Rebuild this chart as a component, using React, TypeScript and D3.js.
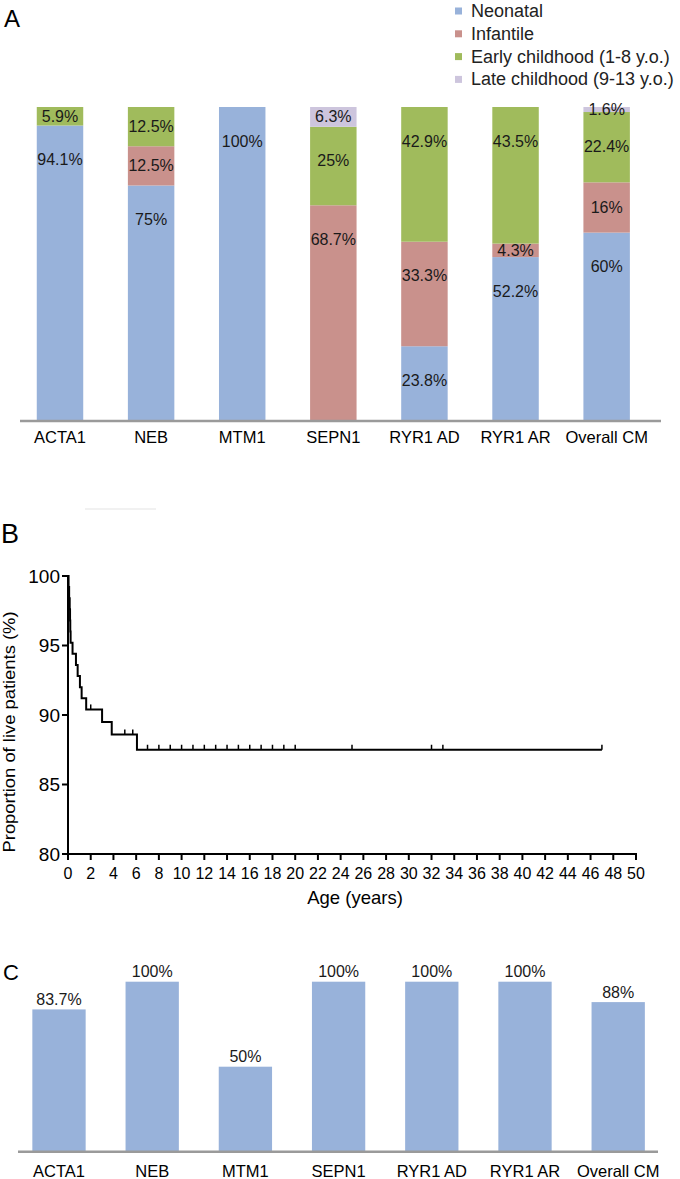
import React from "react";
import * as d3 from "d3";

// categories shared by panels A and C
const genes = ["ACTA1", "NEB", "MTM1", "SEPN1", "RYR1 AD", "RYR1 AR", "Overall CM"];

// panel A: age at onset (%)
const stageNames = ["Neonatal", "Infantile", "Early childhood (1-8 y.o.)", "Late childhood (9-13 y.o.)"];
const neonatal = [94.1, 75, 100, 0, 23.8, 52.2, 60];
const infantile = [0, 12.5, 0, 68.7, 33.3, 4.3, 16];
const earlyChildhood = [5.9, 12.5, 0, 25, 42.9, 43.5, 22.4];
const lateChildhood = [0, 0, 0, 6.3, 0, 0, 1.6];
const stageColors = ["#98b2da", "#c9918c", "#a0bb5c", "#cdc5dd"];

// panel B: Kaplan-Meier survival (event time in years, survival %)
const eventTimes = [0, 0.05, 0.1, 0.15, 0.18, 0.2, 0.23, 0.4, 0.7, 0.85, 1.05, 1.2, 1.6, 3.0, 3.85, 6.07, 47];
const survival = [100, 99.2, 98.4, 97.6, 96.8, 96.0, 95.2, 94.4, 93.6, 92.8, 92.0, 91.2, 90.4, 89.5, 88.6, 87.5, 87.5];
const censorTimes = [2, 5, 5.7, 7, 8, 9, 10, 11, 12, 13, 14, 15, 16, 17, 18, 19, 20, 25, 32, 33, 47];
const xTicksB = d3.range(0, 51, 2);
const yTicksB = [80, 85, 90, 95, 100];

// panel C: survival by gene (%)
const survivalByGene = [83.7, 100, 50, 100, 100, 100, 88];

const FONT = "'Liberation Sans', Arial, Helvetica, sans-serif";
const fmt = (v: number) => `${v}%`;

const PanelA = () => {
  const x = d3.scaleBand().domain(genes).range([14.45, 652.2]).paddingInner(0.49).paddingOuter(0.245);
  const y = d3.scaleLinear().domain([0, 100]).range([421, 107]);
  const rows = genes.map((g, i) => ({
    gene: g,
    s0: neonatal[i],
    s1: infantile[i],
    s2: earlyChildhood[i],
    s3: lateChildhood[i],
  }));
  const stack = d3.stack<any>().keys(["s0", "s1", "s2", "s3"])(rows);

  return (
    <g>
      <text x={4} y={27} fontSize={24} fontFamily={FONT}>A</text>
      {/* legend */}
      {stageNames.map((name, i) => (
        <g key={name} transform={`translate(455, ${11 + i * 22.8})`}>
          <rect x={0} y={-3.5} width={7} height={7} fill={stageColors[i]} />
          <text x={16} y={6} fontSize={18} fontFamily={FONT} fill="#222">{name}</text>
        </g>
      ))}
      {stack.map((layer, li) =>
        layer.map((d, i) => {
          const v = d[1] - d[0];
          if (v <= 0) return null;
          const top = y(d[1]);
          const h = y(d[0]) - top;
          const cx = x(genes[i])! + x.bandwidth() / 2;
          return (
            <g key={`${li}-${i}`}>
              <rect x={x(genes[i])} y={top} width={x.bandwidth()} height={h} fill={stageColors[li]} />
              <text
                x={cx}
                y={top + Math.min(h / 2, 34)}
                dy="0.35em"
                textAnchor="middle"
                fontSize={16}
                fontFamily={FONT}
                fill="#1a1a1a"
              >
                {fmt(+v.toFixed(1))}
              </text>
            </g>
          );
        })
      )}
      <line x1={20} x2={661} y1={421} y2={421} stroke="#9a9a9a" strokeWidth={2.5} />
      {genes.map((g) => (
        <text key={g} x={x(g)! + x.bandwidth() / 2} y={443} textAnchor="middle" fontSize={16.5} fontFamily={FONT}>
          {g}
        </text>
      ))}
    </g>
  );
};

const PanelB = () => {
  const x = d3.scaleLinear().domain([0, 50]).range([68, 636]);
  const y = d3.scaleLinear().domain([80, 100]).range([854, 576]);
  const pts: [number, number][] = eventTimes.map((t, i) => [t, survival[i]]);
  const line = d3
    .line<[number, number]>()
    .x((d) => x(d[0]))
    .y((d) => y(d[1]))
    .curve(d3.curveStepAfter);
  const survAt = (t: number) => {
    let s = survival[0];
    eventTimes.forEach((et, i) => {
      if (et <= t) s = survival[i];
    });
    return s;
  };

  return (
    <g>
      <line x1={85} x2={156} y1={509} y2={509} stroke="#ececec" strokeWidth={1.5} />
      <text x={1} y={543} fontSize={27} fontFamily={FONT}>B</text>
      <path d={line(pts)!} fill="none" stroke="#000" strokeWidth={2} />
      {censorTimes.map((t) => (
        <line key={t} x1={x(t)} x2={x(t)} y1={y(survAt(t))} y2={y(survAt(t)) - 5} stroke="#000" strokeWidth={1.5} />
      ))}
      {/* axes */}
      <line x1={x(0)} x2={x(0)} y1={y(100)} y2={y(80) + 1} stroke="#000" strokeWidth={2} />
      <line x1={x(0) - 1} x2={x(50) + 1} y1={y(80)} y2={y(80)} stroke="#000" strokeWidth={2} />
      {yTicksB.map((t) => (
        <g key={t}>
          <line x1={x(0) - 6} x2={x(0)} y1={y(t)} y2={y(t)} stroke="#000" strokeWidth={2} />
          <text x={x(0) - 8} y={y(t)} dy="0.36em" textAnchor="end" fontSize={19} fontFamily={FONT}>
            {t}
          </text>
        </g>
      ))}
      {xTicksB.map((t) => (
        <g key={t}>
          <line x1={x(t)} x2={x(t)} y1={y(80)} y2={y(80) + 6} stroke="#000" strokeWidth={2} />
          <text x={x(t)} y={879} textAnchor="middle" fontSize={16} fontFamily={FONT}>
            {t}
          </text>
        </g>
      ))}
      <text x={355} y={904} textAnchor="middle" fontSize={18.5} fontFamily={FONT}>
        Age (years)
      </text>
      <text
        transform={`translate(15, 732) rotate(-90)`}
        textAnchor="middle"
        fontSize={17}
        fontFamily={FONT}
        textLength={241}
        lengthAdjust="spacingAndGlyphs"
      >
        Proportion of live patients (%)
      </text>
    </g>
  );
};

const PanelC = () => {
  const x = d3.scaleBand().domain(genes).range([12.4, 664.8]).paddingInner(0.428).paddingOuter(0.214);
  const y = d3.scaleLinear().domain([0, 100]).range([1151.7, 981.7]);
  return (
    <g>
      <text x={3} y={980} fontSize={22} fontFamily={FONT}>C</text>
      {genes.map((g, i) => (
        <g key={g}>
          <rect x={x(g)} y={y(survivalByGene[i])} width={x.bandwidth()} height={y(0) - y(survivalByGene[i])} fill={stageColors[0]} />
          <text
            x={x(g)! + x.bandwidth() / 2}
            y={y(survivalByGene[i]) - 10}
            dy="0.35em"
            textAnchor="middle"
            fontSize={16}
            fontFamily={FONT}
            fill="#1a1a1a"
          >
            {fmt(survivalByGene[i])}
          </text>
          <text x={x(g)! + x.bandwidth() / 2} y={1177} textAnchor="middle" fontSize={16.5} fontFamily={FONT}>
            {g}
          </text>
        </g>
      ))}
      <line x1={18} x2={658} y1={1151.7} y2={1151.7} stroke="#9a9a9a" strokeWidth={2.5} />
    </g>
  );
};

export default function App() {
  return (
    <svg
      width={680}
      height={1179}
      style={{ position: "absolute", left: 0, top: 0, background: "#fff" }}
    >
      <PanelA />
      <PanelB />
      <PanelC />
    </svg>
  );
}
